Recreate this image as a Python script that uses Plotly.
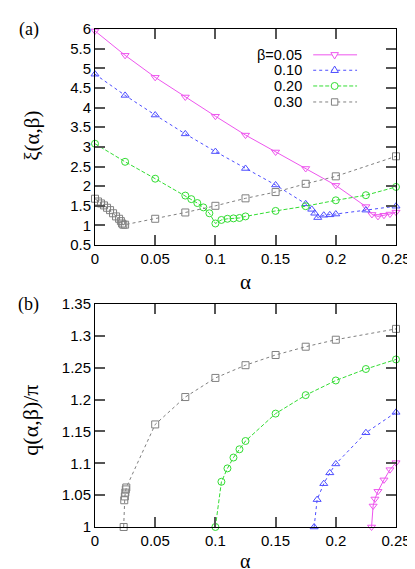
import plotly.graph_objects as go

# ---------------- data: panel (a) xi(alpha, beta) ----------------
a_b005 = [0, 0.025, 0.05, 0.075, 0.1, 0.125, 0.15, 0.175, 0.2, 0.225, 0.23, 0.235, 0.24, 0.245, 0.25]
xi_b005 = [5.95, 5.33, 4.77, 4.27, 3.78, 3.30, 2.87, 2.45, 2.02, 1.48, 1.28, 1.23, 1.26, 1.29, 1.34]

a_b010 = [0, 0.025, 0.05, 0.075, 0.1, 0.125, 0.15, 0.175, 0.18, 0.1825, 0.185, 0.19, 0.195, 0.2, 0.225, 0.25]
xi_b010 = [4.85, 4.31, 3.81, 3.33, 2.88, 2.45, 2.03, 1.55, 1.41, 1.31, 1.20, 1.26, 1.27, 1.29, 1.39, 1.49]

a_b020 = [0, 0.025, 0.05, 0.075, 0.08, 0.085, 0.09, 0.095, 0.1, 0.105, 0.11, 0.115, 0.12, 0.125,
          0.15, 0.175, 0.2, 0.225, 0.25]
xi_b020 = [3.08, 2.62, 2.19, 1.76, 1.67, 1.57, 1.46, 1.31, 1.05, 1.14, 1.17, 1.18, 1.19, 1.23,
           1.37, 1.49, 1.64, 1.77, 1.98]

a_b030 = [0, 0.0025, 0.005, 0.0075, 0.01, 0.0125, 0.015, 0.0175, 0.02, 0.0215, 0.0225, 0.0235, 0.025,
          0.05, 0.075, 0.1, 0.125, 0.15, 0.175, 0.2, 0.25]
xi_b030 = [1.68, 1.61, 1.56, 1.51, 1.45, 1.39, 1.31, 1.23, 1.17, 1.11, 1.05, 1.02, 1.02,
           1.17, 1.33, 1.50, 1.69, 1.85, 2.06, 2.25, 2.76]

# ---------------- data: panel (b) q(alpha, beta)/pi ----------------
qa_b005 = [0.2297, 0.231, 0.2325, 0.235, 0.24, 0.245, 0.25]
q_b005 = [1.0, 1.033, 1.044, 1.056, 1.074, 1.090, 1.101]

qa_b010 = [0.182, 0.1845, 0.19, 0.195, 0.2, 0.225, 0.25]
q_b010 = [1.0, 1.043, 1.068, 1.085, 1.099, 1.148, 1.180]

qa_b020 = [0.1, 0.105, 0.11, 0.115, 0.12, 0.125, 0.15, 0.175, 0.2, 0.225, 0.25]
q_b020 = [1.0, 1.071, 1.092, 1.109, 1.122, 1.135, 1.178, 1.207, 1.230, 1.248, 1.263]

qa_b030 = [0.0238, 0.0243, 0.0248, 0.0252, 0.0256, 0.026, 0.05, 0.075, 0.1, 0.125, 0.15, 0.175, 0.2, 0.25]
q_b030 = [1.0, 1.042, 1.048, 1.054, 1.059, 1.062, 1.161, 1.204, 1.234, 1.254, 1.270, 1.283, 1.294, 1.311]

legend_labels = ["β=0.05", "0.10", "0.20", "0.30"]

# ---------------- styles ----------------
styles = [
    dict(color="#ee55ee", symbol="triangle-down-open", dash="solid",
         glyph="M-3.8,2.2 L3.8,2.2 L0,-4.2 Z"),
    dict(color="#4d4dff", symbol="triangle-up-open", dash="dot",
         glyph="M-3.8,-2.2 L3.8,-2.2 L0,4.2 Z"),
    dict(color="#33dd33", symbol="circle-open", dash="4px,2px", glyph="circle"),
    dict(color="#808080", symbol="square-open", dash="3px,3px", glyph="square"),
]

W, H = 415, 569
ML, MR, MT, MB = 87, 19, 12, 50
PW, PH = W - ML - MR, H - MT - MB

def px_x(p):
    return (p - ML) / PW

def px_y(p):
    return (H - MB - p) / PH

fig = go.Figure()

panel_a = [(a_b005, xi_b005), (a_b010, xi_b010), (a_b020, xi_b020), (a_b030, xi_b030)]
panel_b = [(qa_b005, q_b005), (qa_b010, q_b010), (qa_b020, q_b020), (qa_b030, q_b030)]

for (xs, ys), st in zip(panel_a, styles):
    fig.add_trace(go.Scatter(
        x=xs, y=ys, mode="lines+markers", xaxis="x", yaxis="y", cliponaxis=False,
        line=dict(color=st["color"], width=1, dash=st["dash"]),
        marker=dict(symbol=st["symbol"], size=7, color=st["color"], line=dict(width=1, color=st["color"])),
        showlegend=False))

for (xs, ys), st in zip(panel_b, styles):
    fig.add_trace(go.Scatter(
        x=xs, y=ys, mode="lines+markers", xaxis="x2", yaxis="y2", cliponaxis=False,
        line=dict(color=st["color"], width=1, dash=st["dash"]),
        marker=dict(symbol=st["symbol"], size=7, color=st["color"], line=dict(width=1, color=st["color"])),
        showlegend=False))

# manual legend (text on the left, sample on the right, gnuplot style)
row_px = [38.3, 54.0, 70.0, 86.3]
annotations = []
shapes = []
for lab, st, ry in zip(legend_labels, styles, row_px):
    yy = px_y(ry)
    shapes.append(dict(type="line", xref="paper", yref="paper",
                       x0=px_x(311), x1=px_x(356), y0=yy, y1=yy,
                       line=dict(color=st["color"], width=1, dash=st["dash"])))
    common = dict(xref="paper", yref="paper", xsizemode="pixel", ysizemode="pixel",
                  xanchor=px_x(333), yanchor=yy, fillcolor="white",
                  line=dict(color=st["color"], width=1))
    if st["glyph"] == "circle":
        shapes.append(dict(type="circle", x0=-3.5, x1=3.5, y0=-3.5, y1=3.5, **common))
    elif st["glyph"] == "square":
        shapes.append(dict(type="rect", x0=-3.2, x1=3.2, y0=-3.2, y1=3.2, **common))
    else:
        shapes.append(dict(type="path", path=st["glyph"], **common))
    annotations.append(dict(x=px_x(302), y=yy, xref="paper", yref="paper", text=lab,
                            showarrow=False, xanchor="right", yanchor="middle",
                            font=dict(family="Liberation Sans", size=14.5, color="black")))

serif = "Liberation Serif"
sans = "Liberation Sans"

annotations += [
    dict(x=px_x(19), y=px_y(13), xref="paper", yref="paper", text="(a)", showarrow=False,
         xanchor="center", yanchor="middle", font=dict(family=serif, size=18, color="black")),
    dict(x=px_x(19), y=px_y(292), xref="paper", yref="paper", text="(b)", showarrow=False,
         xanchor="center", yanchor="middle", font=dict(family=serif, size=18, color="black")),
    dict(x=px_x(22), y=px_y(121), xref="paper", yref="paper", text="ξ(α,β)", showarrow=False,
         textangle=-90, xanchor="center", yanchor="middle", font=dict(family=serif, size=21, color="black")),
    dict(x=px_x(21), y=px_y(410), xref="paper", yref="paper",
         text="q(α,β)/π", showarrow=False,
         textangle=-90, xanchor="center", yanchor="middle", font=dict(family=serif, size=22, color="black")),
    dict(x=px_x(241), y=px_y(270), xref="paper", yref="paper", text="α", showarrow=False,
         xanchor="center", yanchor="middle", font=dict(family=serif, size=21, color="black")),
    dict(x=px_x(241), y=px_y(554), xref="paper", yref="paper", text="α", showarrow=False,
         xanchor="center", yanchor="middle", font=dict(family=serif, size=20, color="black")),
]

axis_common = dict(showline=True, linecolor="black", linewidth=1, mirror="ticks",
                   ticks="inside", ticklen=10, tickwidth=2, tickcolor="#555555",
                   showgrid=False, zeroline=False,
                   tickfont=dict(family=sans, size=15, color="black"))

fig.update_layout(
    width=W, height=H,
    margin=dict(l=ML, r=MR, t=MT, b=MB),
    paper_bgcolor="white", plot_bgcolor="white",
    xaxis=dict(domain=[0, 1], anchor="y", range=[0, 0.25], dtick=0.05, tick0=0, **axis_common),
    yaxis=dict(domain=[px_y(232), 1], anchor="x", range=[0.5, 6], dtick=0.5, tick0=0.5, **axis_common),
    xaxis2=dict(domain=[0, 1], anchor="y2", range=[0, 0.25], dtick=0.05, tick0=0, **axis_common),
    yaxis2=dict(domain=[0, px_y(292)], anchor="x2", range=[1, 1.35], dtick=0.05, tick0=1, **axis_common),
    annotations=annotations,
    shapes=shapes,
    showlegend=False,
)

fig.write_html("out.html")
